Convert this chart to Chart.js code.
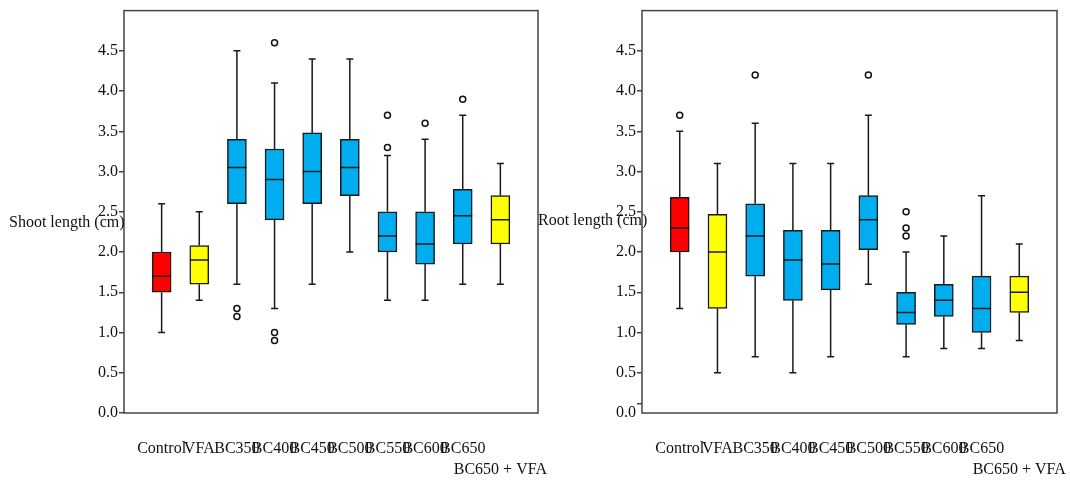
<!DOCTYPE html>
<html lang="en">
<head>
    <meta charset="UTF-8">
    <title>Shoot and root length</title>
    <script src="https://cdn.jsdelivr.net/npm/chart.js"></script>
    <style>
        body { margin: 0; background: #fff; }
        canvas { position: absolute; left: 0; top: 0; }
    </style>
</head>
<body>
    <canvas id="shootChart" width="1070" height="482"></canvas>
    <canvas id="rootChart" width="1070" height="482"></canvas>

<script>
const categories = ['Control', 'VFA', 'BC350', 'BC400', 'BC450', 'BC500', 'BC550', 'BC600', 'BC650', 'BC650 + VFA'];
const boxColors = ['#ff0000', '#ffff00', '#00aeef', '#00aeef', '#00aeef', '#00aeef', '#00aeef', '#00aeef', '#00aeef', '#ffff00'];

// shoot length (cm)
const shootMin    = [1.0, 1.4, 1.6, 1.3, 1.6, 2.0, 1.4, 1.4, 1.6, 1.6];
const shootQ1     = [1.5, 1.6, 2.6, 2.4, 2.6, 2.7, 2.0, 1.85, 2.1, 2.1];
const shootMedian = [1.7, 1.9, 3.05, 2.9, 3.0, 3.05, 2.2, 2.1, 2.45, 2.4];
const shootQ3     = [2.0, 2.08, 3.4, 3.28, 3.48, 3.4, 2.5, 2.5, 2.78, 2.7];
const shootMax    = [2.6, 2.5, 4.5, 4.1, 4.4, 4.4, 3.2, 3.4, 3.7, 3.1];
const shootOutliers = [[], [], [1.3, 1.2], [4.6, 1.0, 0.9], [], [], [3.7, 3.3], [3.6], [3.9], []];

// root length (cm)
const rootMin    = [1.3, 0.5, 0.7, 0.5, 0.7, 1.6, 0.7, 0.8, 0.8, 0.9];
const rootQ1     = [2.0, 1.3, 1.7, 1.4, 1.53, 2.03, 1.1, 1.2, 1.0, 1.25];
const rootMedian = [2.3, 2.0, 2.2, 1.9, 1.85, 2.4, 1.25, 1.4, 1.3, 1.5];
const rootQ3     = [2.68, 2.47, 2.6, 2.27, 2.27, 2.7, 1.5, 1.6, 1.7, 1.7];
const rootMax    = [3.5, 3.1, 3.6, 3.1, 3.1, 3.7, 2.0, 2.2, 2.7, 2.1];
const rootOutliers = [[3.7], [], [4.2], [], [], [4.2], [2.5, 2.3, 2.2], [], [], []];

const yTickValues = [0, 0.5, 1.0, 1.5, 2.0, 2.5, 3.0, 3.5, 4.0, 4.5];

const fontFamily = '"Liberation Serif", "Times New Roman", serif';

// whiskers, caps, medians, frame and the texts SPSS puts by hand
const boxExtras = {
    id: 'boxExtras',
    afterDatasetsDraw(chart, args, opts) {
        const ctx = chart.ctx;
        const x = chart.scales.x, y = chart.scales.y;
        const bars = chart.getDatasetMeta(0).data;
        ctx.save();
        ctx.strokeStyle = '#1a1a1a';
        ctx.lineWidth = 1.5;
        opts.min.forEach((mn, i) => {
            const cx = x.getPixelForValue(i);
            const half = bars[i].width / 2;
            const capHalf = 3.5;
            ctx.beginPath();
            ctx.moveTo(cx, y.getPixelForValue(opts.q3[i]));
            ctx.lineTo(cx, y.getPixelForValue(opts.max[i]));
            ctx.moveTo(cx, y.getPixelForValue(opts.q1[i]));
            ctx.lineTo(cx, y.getPixelForValue(mn));
            ctx.moveTo(cx - capHalf, y.getPixelForValue(opts.max[i]));
            ctx.lineTo(cx + capHalf, y.getPixelForValue(opts.max[i]));
            ctx.moveTo(cx - capHalf, y.getPixelForValue(mn));
            ctx.lineTo(cx + capHalf, y.getPixelForValue(mn));
            ctx.moveTo(cx - half, y.getPixelForValue(opts.median[i]));
            ctx.lineTo(cx + half, y.getPixelForValue(opts.median[i]));
            ctx.stroke();
        });
        const a = chart.chartArea;
        ctx.strokeStyle = '#444';
        ctx.strokeRect(a.left, a.top, a.right - a.left, a.bottom - a.top);
        ctx.fillStyle = '#111';
        ctx.font = '16px ' + fontFamily;
        ctx.textBaseline = 'middle';
        ctx.textAlign = 'left';
        ctx.fillText(opts.title, opts.titleX, opts.titleY);
        // last category sits on a second row
        ctx.textAlign = 'center';
        ctx.fillText(categories[9], x.getPixelForValue(9), a.bottom + 57);
        ctx.restore();
    }
};

function makeBoxChart(id, min, q1, median, q3, max, outliers, title, pad, titleX, titleY, strayTick) {
    const boxes = categories.map((c, i) => ({ x: i, y: [q1[i], q3[i]] }));
    const points = [];
    outliers.forEach((list, i) => list.forEach(v => points.push({ x: i, y: v })));

    return new Chart(document.getElementById(id), {
        type: 'bar',
        data: {
            datasets: [{
                data: boxes,
                backgroundColor: boxColors,
                borderColor: '#1a1a1a',
                borderWidth: 1.5,
                borderSkipped: false,
                barThickness: 19
            }, {
                type: 'scatter',
                data: points,
                pointRadius: 3,
                pointBackgroundColor: '#fff',
                pointBorderColor: '#111',
                pointBorderWidth: 1.5
            }]
        },
        options: {
            responsive: false,
            animation: false,
            devicePixelRatio: 1,
            layout: { padding: pad },
            plugins: {
                legend: { display: false },
                tooltip: { enabled: false },
                boxExtras: { min, q1, median, q3, max, title, titleX, titleY }
            },
            scales: {
                x: {
                    type: 'linear',
                    min: -1,
                    max: 10,
                    offset: false,
                    afterBuildTicks: axis => { axis.ticks = categories.map((c, i) => ({ value: i })); },
                    afterFit: axis => { axis.height = 60; },
                    grid: { display: false },
                    border: { display: false },
                    ticks: {
                        autoSkip: false,
                        maxRotation: 0,
                        minRotation: 0,
                        padding: 18,
                        color: '#111',
                        font: { family: fontFamily, size: 16 },
                        callback: v => v === 9 ? '' : categories[v]
                    }
                },
                y: {
                    min: 0,
                    max: 5,
                    afterBuildTicks: axis => {
                        const vals = strayTick ? yTickValues.concat([strayTick]) : yTickValues;
                        axis.ticks = vals.map(v => ({ value: v }));
                    },
                    afterFit: axis => { axis.width = 40; },
                    grid: {
                        drawOnChartArea: false,
                        tickLength: 5,
                        lineWidth: 1.5,
                        color: c => (strayTick && c.tick && c.tick.value === 0) ? 'rgba(0,0,0,0)' : '#444'
                    },
                    border: { display: false },
                    ticks: {
                        padding: 1,
                        color: '#111',
                        font: { family: fontFamily, size: 16 },
                        callback: v => yTickValues.includes(v) ? v.toFixed(1) : ''
                    }
                }
            }
        },
        plugins: [boxExtras]
    });
}

makeBoxChart('shootChart', shootMin, shootQ1, shootMedian, shootQ3, shootMax, shootOutliers,
    'Shoot length (cm)', { left: 84, right: 532, top: 8, bottom: 9 }, 9, 223, null);
makeBoxChart('rootChart', rootMin, rootQ1, rootMedian, rootQ3, rootMax, rootOutliers,
    'Root length (cm)', { left: 602, right: 13, top: 8, bottom: 9 }, 538, 221, 0.11);
</script>
</body>
</html>
